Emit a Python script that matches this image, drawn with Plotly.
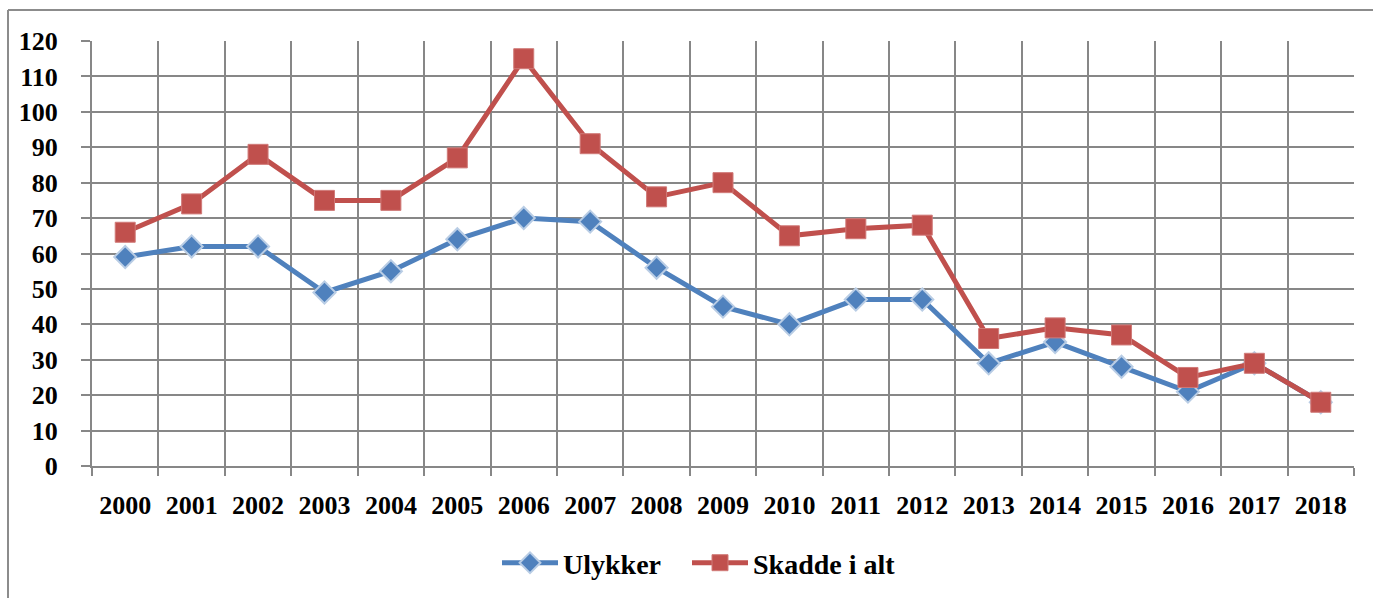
import plotly.graph_objects as go

years = [str(y) for y in range(2000, 2019)]
ulykker = [59, 62, 62, 49, 55, 64, 70, 69, 56, 45, 40, 47, 47, 29, 35, 28, 21, 29, 18]
skadde = [66, 74, 88, 75, 75, 87, 115, 91, 76, 80, 65, 67, 68, 36, 39, 37, 25, 29, 18]
y_ticks = list(range(0, 121, 10))

W, H = 1373, 598
L, R, T, B = 92, 19, 41, 132
pw, ph = W - L - R, H - T - B

FONT = dict(family="'Liberation Serif', 'DejaVu Serif', serif", size=26,
            color="black", weight="bold")
LEG_FONT = dict(FONT, size=28)
GRID = "#878787"

fig = go.Figure()
fig.add_trace(go.Scatter(
    x=years, y=ulykker, name="Ulykker", mode="lines+markers",
    line=dict(color="#4f81bd", width=5),
    marker=dict(symbol="diamond", size=17, color="#4f81bd",
                line=dict(color="#b9cde5", width=2)),
    legend="legend",
))
fig.add_trace(go.Scatter(
    x=years, y=skadde, name="Skadde i alt", mode="lines+markers",
    line=dict(color="#c0504d", width=5),
    marker=dict(symbol="square", size=20, color="#c0504d",
                line=dict(color="#d07a78", width=1)),
    legend="legend2",
))

def px_x(x):
    return (x - L) / pw

def px_y(y):
    return (H - B - y) / ph

# outer chart frame (top and left edges)
fig.add_shape(type="line", xref="paper", yref="paper",
              x0=px_x(8), x1=px_x(W + 5), y0=px_y(10), y1=px_y(10),
              line=dict(color="#8c8c8c", width=2))
fig.add_shape(type="line", xref="paper", yref="paper",
              x0=px_x(8), x1=px_x(8), y0=px_y(10), y1=px_y(H + 5),
              line=dict(color="#8c8c8c", width=2))

legend_common = dict(orientation="h", xanchor="left", y=px_y(563),
                     yanchor="middle", itemwidth=56, font=LEG_FONT,
                     bgcolor="rgba(0,0,0,0)")

fig.update_layout(
    width=W, height=H,
    margin=dict(l=L, r=R, t=T, b=B, autoexpand=False),
    paper_bgcolor="white", plot_bgcolor="white",
    font=FONT,
    showlegend=True,
    legend=dict(legend_common, x=px_x(497)),
    legend2=dict(legend_common, x=px_x(687)),
    xaxis=dict(type="category", categoryorder="array", categoryarray=years,
               range=[-0.5, len(years) - 0.5], tickson="boundaries",
               showgrid=True, gridcolor=GRID, gridwidth=2,
               showline=True, linecolor=GRID, linewidth=2,
               ticks="outside", ticklen=8, tickwidth=2, tickcolor=GRID,
               ticklabelstandoff=15, tickfont=FONT, zeroline=False),
    yaxis=dict(range=[0, 120], tickvals=y_ticks, ticktext=[str(v) for v in y_ticks],
               showgrid=True, gridcolor=GRID, gridwidth=2,
               showline=True, linecolor=GRID, linewidth=2,
               ticks="outside", ticklen=9, tickwidth=2, tickcolor=GRID,
               ticklabelstandoff=18, tickfont=FONT, zeroline=False),
)

fig.write_html("out.html")
